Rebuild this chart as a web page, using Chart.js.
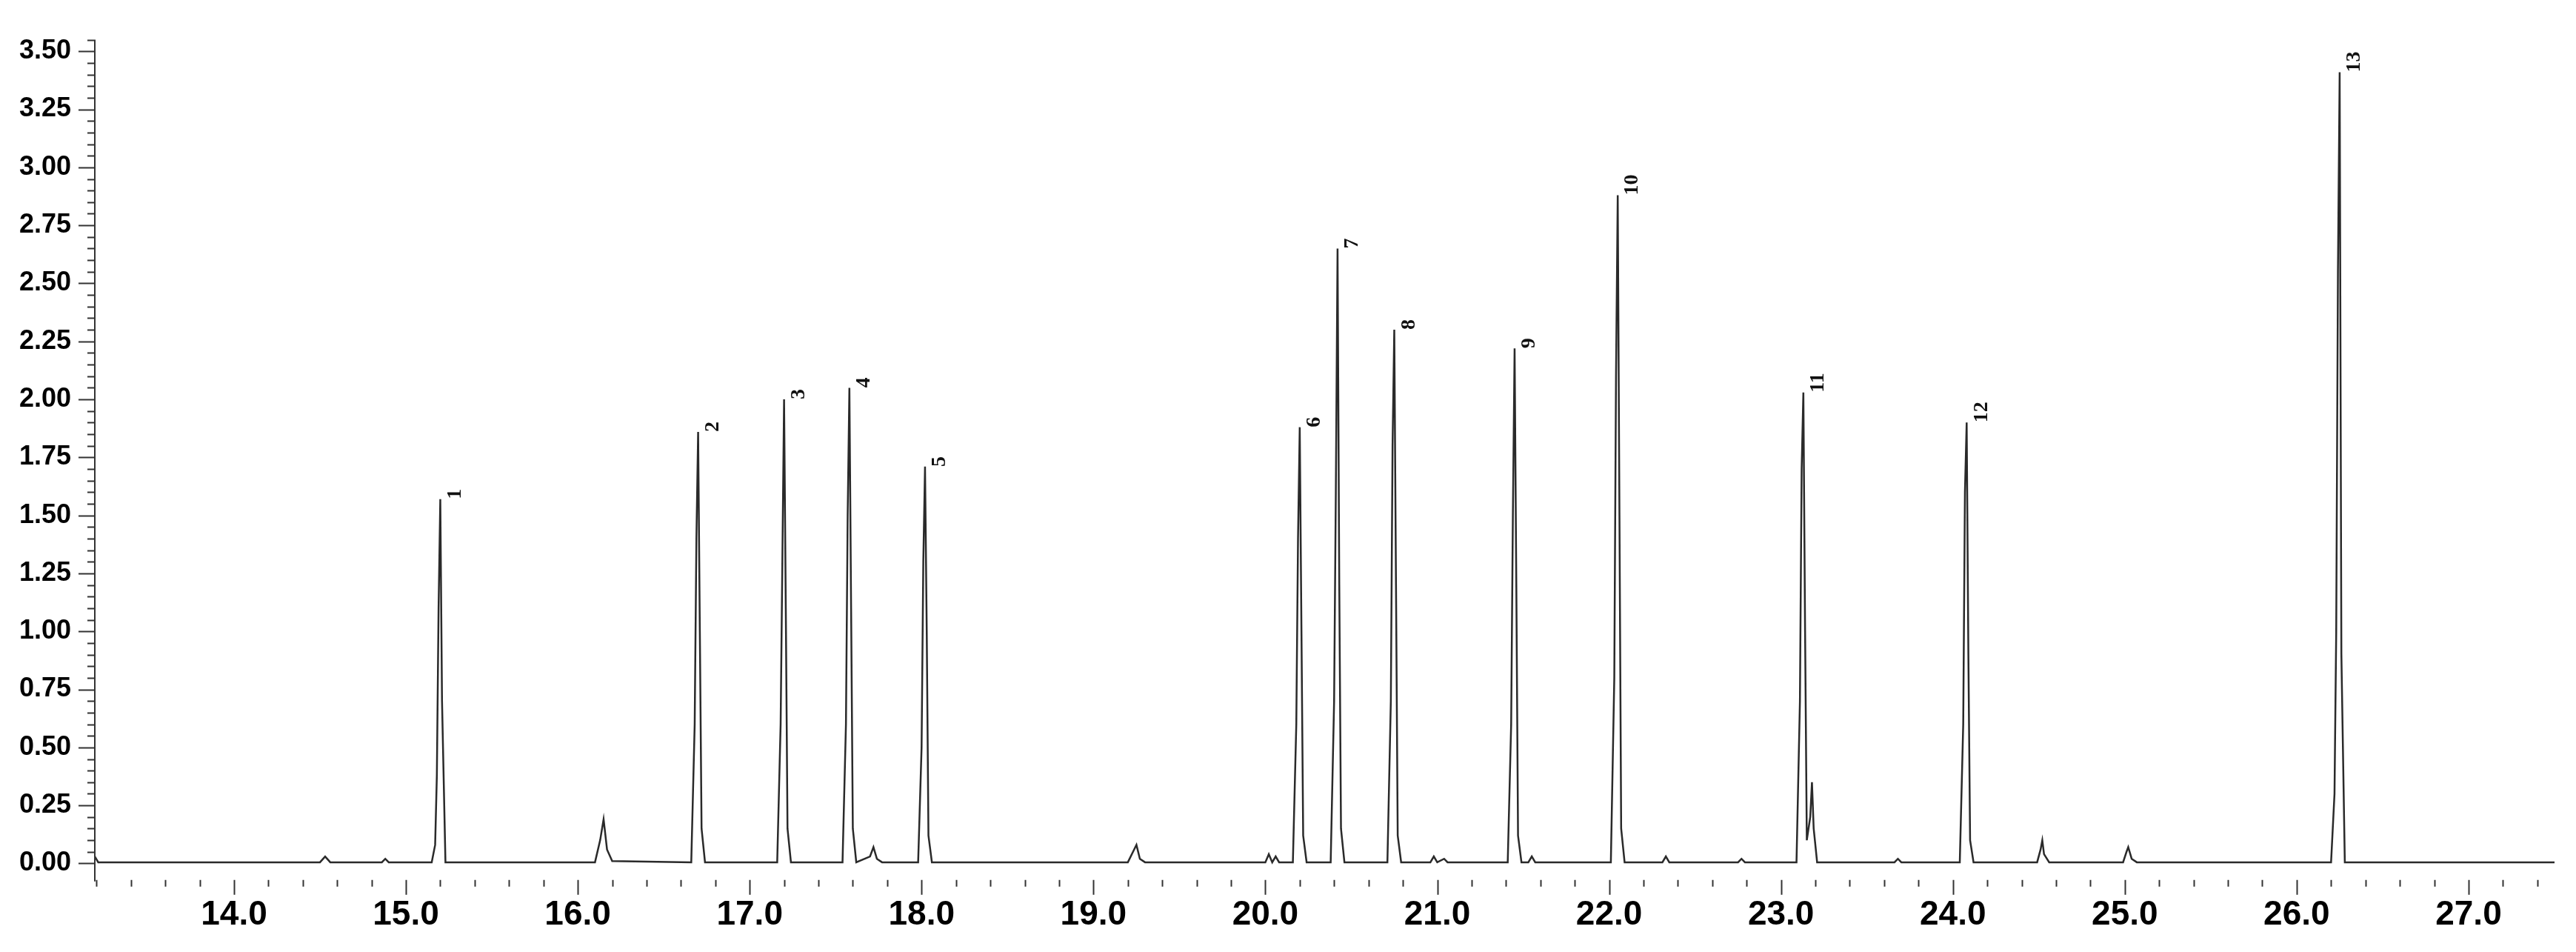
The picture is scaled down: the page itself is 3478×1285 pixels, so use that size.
<!DOCTYPE html>
<html>
<head>
<meta charset="utf-8">
<script src="https://cdn.jsdelivr.net/npm/chart.js@4/dist/chart.umd.min.js"></script>
<style>
  html, body { margin: 0; padding: 0; background: #fff; }
  #wrap { width: 3478px; height: 1285px; }
</style>
</head>
<body>
<div id="wrap"><canvas id="chrom"></canvas></div>
<script>
// retention time (min) and detector signal
const times = [
  13.19, 13.21, 14.50, 14.53, 14.56, 14.86, 14.88, 14.90,
  15.15, 15.17, 15.18, 15.19, 15.20, 15.21, 15.23,
  16.10, 16.13, 16.15, 16.17, 16.20,
  16.66, 16.68, 16.69, 16.70, 16.71, 16.72, 16.74,
  17.16, 17.18, 17.19, 17.20, 17.21, 17.22, 17.24,
  17.54, 17.56, 17.57, 17.58, 17.59, 17.60, 17.62, 17.70, 17.72, 17.74, 17.77,
  17.98, 18.00, 18.01, 18.02, 18.03, 18.04, 18.06,
  19.20, 19.23, 19.25, 19.27, 19.30,
  20.00, 20.02, 20.04, 20.06, 20.08,
  20.16, 20.18, 20.19, 20.20, 20.21, 20.22, 20.24,
  20.38, 20.40, 20.41, 20.42, 20.43, 20.44, 20.46,
  20.71, 20.73, 20.74, 20.75, 20.76, 20.77, 20.79,
  20.96, 20.98, 21.00, 21.04, 21.06,
  21.41, 21.43, 21.44, 21.45, 21.46, 21.47, 21.49, 21.53, 21.55, 21.57,
  22.01, 22.03, 22.04, 22.05, 22.06, 22.07, 22.09,
  22.31, 22.33, 22.35, 22.75, 22.77, 22.79,
  23.09, 23.11, 23.12, 23.13, 23.14, 23.15, 23.17, 23.18, 23.19, 23.21,
  23.66, 23.68, 23.70,
  24.04, 24.06, 24.07, 24.08, 24.09, 24.10, 24.12,
  24.49, 24.51, 24.52, 24.53, 24.56,
  24.99, 25.01, 25.02, 25.04, 25.07,
  26.20, 26.22, 26.23, 26.24, 26.25, 26.26, 26.28,
  27.50
];
const signal = [
  0.03, 0.005, 0.005, 0.03, 0.005, 0.005, 0.02, 0.005,
  0.005, 0.08, 0.38, 1.10, 1.57, 0.70, 0.005,
  0.005, 0.10, 0.19, 0.06, 0.01,
  0.005, 0.60, 1.40, 1.86, 1.00, 0.15, 0.005,
  0.005, 0.60, 1.30, 2.00, 1.10, 0.15, 0.005,
  0.005, 0.60, 1.50, 2.05, 1.10, 0.15, 0.005, 0.03, 0.07, 0.02, 0.005,
  0.005, 0.50, 1.30, 1.71, 1.00, 0.12, 0.005,
  0.005, 0.05, 0.08, 0.02, 0.005,
  0.005, 0.04, 0.005, 0.03, 0.005,
  0.005, 0.60, 1.40, 1.88, 1.00, 0.12, 0.005,
  0.005, 0.70, 1.60, 2.65, 1.20, 0.15, 0.005,
  0.005, 0.70, 1.80, 2.30, 1.20, 0.12, 0.005,
  0.005, 0.03, 0.005, 0.02, 0.005,
  0.005, 0.60, 1.50, 2.22, 1.20, 0.12, 0.005, 0.005, 0.03, 0.005,
  0.005, 0.80, 2.10, 2.88, 1.50, 0.15, 0.005,
  0.005, 0.03, 0.005, 0.005, 0.02, 0.005,
  0.005, 0.70, 1.70, 2.03, 1.00, 0.10, 0.20, 0.35, 0.15, 0.005,
  0.005, 0.02, 0.005,
  0.005, 0.60, 1.60, 1.90, 0.90, 0.10, 0.005,
  0.005, 0.06, 0.10, 0.04, 0.005,
  0.005, 0.05, 0.07, 0.02, 0.005,
  0.005, 0.30, 1.00, 2.55, 3.41, 0.90, 0.005,
  0.005
];
// numbered peaks
const peakNames = ['1','2','3','4','5','6','7','8','9','10','11','12','13'];
const peakTimes = [15.20, 16.70, 17.20, 17.58, 18.02, 20.20, 20.42, 20.75, 21.45, 22.05, 23.13, 24.08, 26.25];
const peakHeights = [1.57, 1.86, 2.00, 2.05, 1.71, 1.88, 2.65, 2.30, 2.22, 2.88, 2.03, 1.90, 3.41];

const xTicks = [14, 15, 16, 17, 18, 19, 20, 21, 22, 23, 24, 25, 26, 27];
const yTicks = [0, 0.25, 0.5, 0.75, 1, 1.25, 1.5, 1.75, 2, 2.25, 2.5, 2.75, 3, 3.25, 3.5];

const points = times.map((t, i) => ({ x: t, y: signal[i] }));

// axis lines, major/minor ticks and peak numbers
const decor = {
  id: 'decor',
  afterDraw(chart) {
    const ctx = chart.ctx, a = chart.chartArea;
    const xs = chart.scales.x, ys = chart.scales.y;
    ctx.save();
    ctx.strokeStyle = '#333';
    ctx.lineWidth = 2;
    ctx.beginPath();
    ctx.moveTo(a.left, a.top); ctx.lineTo(a.left, a.bottom + 4);
    // y ticks every 0.05, long every 0.25
    for (let k = 0; k <= 71; k++) {
      const v = k * 0.05;
      const py = Math.round(ys.getPixelForValue(v)) + 0.5;
      const len = k % 5 === 0 ? 22 : 10;
      ctx.moveTo(a.left - len, py); ctx.lineTo(a.left, py);
    }
    // x ticks every 0.2, long at whole minutes
    for (let k = 66; k <= 137; k++) {
      const v = k * 0.2;
      if (v < xs.min - 1e-6 || v > xs.max + 1e-6) continue;
      const px = Math.round(xs.getPixelForValue(v)) + 0.5;
      const len = k % 5 === 0 ? 20 : 9;
      ctx.moveTo(px, a.bottom + 2); ctx.lineTo(px, a.bottom + 2 + len);
    }
    ctx.stroke();

    ctx.fillStyle = '#111';
    ctx.font = 'bold 28px "Liberation Serif", serif';
    ctx.textAlign = 'left';
    ctx.textBaseline = 'top';
    peakNames.forEach((name, i) => {
      const px = xs.getPixelForValue(peakTimes[i]);
      const py = ys.getPixelForValue(peakHeights[i]);
      ctx.save();
      ctx.translate(px + 6, py);
      ctx.rotate(-Math.PI / 2);
      ctx.fillText(name, 0, 0);
      ctx.restore();
    });
    ctx.restore();
  }
};

new Chart(document.getElementById('chrom'), {
  type: 'line',
  data: {
    datasets: [{
      data: points,
      borderColor: '#2a2a2a',
      borderWidth: 2.5,
      pointRadius: 0,
      tension: 0,
      fill: false
    }]
  },
  options: {
    responsive: true,
    maintainAspectRatio: false,
    animation: false,
    devicePixelRatio: 1,
    layout: { padding: { left: 0, right: 29, top: 12, bottom: 0 } },
    plugins: { legend: { display: false }, tooltip: { enabled: false } },
    scales: {
      x: {
        type: 'linear',
        min: 13.19,
        max: 27.5,
        afterBuildTicks: s => { s.ticks = xTicks.map(v => ({ value: v })); },
        grid: { display: false, drawTicks: false },
        border: { display: false },
        ticks: {
          padding: 22,
          maxRotation: 0,
          color: '#000',
          font: { family: '"Liberation Sans", Arial, sans-serif', size: 46, weight: 'bold' },
          callback: v => v.toFixed(1)
        }
      },
      y: {
        min: -0.065,
        max: 3.55,
        afterBuildTicks: s => { s.ticks = yTicks.map(v => ({ value: v })); },
        afterFit: s => { s.width = 128; },
        grid: { display: false, drawTicks: false },
        border: { display: false },
        ticks: {
          padding: 32,
          color: '#000',
          font: { family: '"Liberation Sans", Arial, sans-serif', size: 36, weight: 'bold' },
          callback: v => v.toFixed(2)
        }
      }
    }
  },
  plugins: [decor]
});
</script>
</body>
</html>
